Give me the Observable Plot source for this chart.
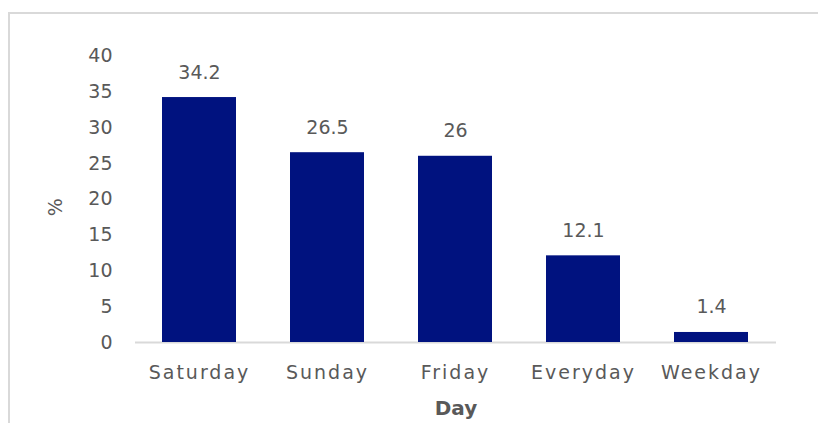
<!DOCTYPE html>
<html>
<head>
<meta charset="utf-8">
<script src="https://cdn.jsdelivr.net/npm/d3@7"></script>
<script src="https://cdn.jsdelivr.net/npm/@observablehq/plot@0.6"></script>
<style>
  html, body { margin: 0; padding: 0; background: #fff; overflow: hidden; width: 818px; height: 423px; }
  #frame { position: absolute; left: 8px; top: 12px; width: 900px; height: 500px; border: 2px solid #d9d9d9; box-sizing: border-box; }
  #chart { position: absolute; left: 0; top: 0; }
  .xax text { letter-spacing: 2px; }
</style>
</head>
<body>
<div id="frame"></div>
<div id="chart"></div>
<script>
const days = ["Saturday", "Sunday", "Friday", "Everyday", "Weekday"];
const percents = [34.2, 26.5, 26, 12.1, 1.4];
const yTicks = [0, 5, 10, 15, 20, 25, 30, 35, 40];
const xTitle = "Day";
const yTitle = "%";

const data = days.map((d, i) => ({day: d, value: percents[i]}));
const font = "'DejaVu Sans', sans-serif";
const grey = "#595959";

const chart = Plot.plot({
  width: 818,
  height: 423,
  marginLeft: 135,
  marginRight: 42,
  marginTop: 55.5,
  marginBottom: 81,
  style: {fontFamily: font, fontSize: "19px", color: grey, background: "transparent"},
  x: {domain: days, paddingInner: 0.42, paddingOuter: 0.21, label: null},
  y: {domain: [0, 40], label: null},
  marks: [
    Plot.ruleY([0], {stroke: "#d9d9d9", strokeWidth: 2}),
    Plot.barY(data, {x: "day", y: "value", fill: "#00127f"}),
    Plot.text(data, {x: "day", y: "value", text: d => String(d.value), lineAnchor: "bottom", dy: -19, fontSize: 19, fill: grey}),
    Plot.axisY({ticks: yTicks, tickSize: 0, tickPadding: 23, label: null, fill: grey}),
    Plot.axisX({tickSize: 0, tickPadding: 23, label: null, fill: grey, className: "xax"}),
    Plot.text([xTitle], {frameAnchor: "bottom", text: d => d, dy: 66, lineAnchor: "middle", fontWeight: "bold", fontSize: 20, fill: grey}),
    Plot.text([yTitle], {frameAnchor: "left", text: d => d, dx: -80, dy: 17, rotate: -90, lineAnchor: "middle", fontSize: 19, fill: grey})
  ]
});
document.getElementById("chart").appendChild(chart);
</script>
</body>
</html>
